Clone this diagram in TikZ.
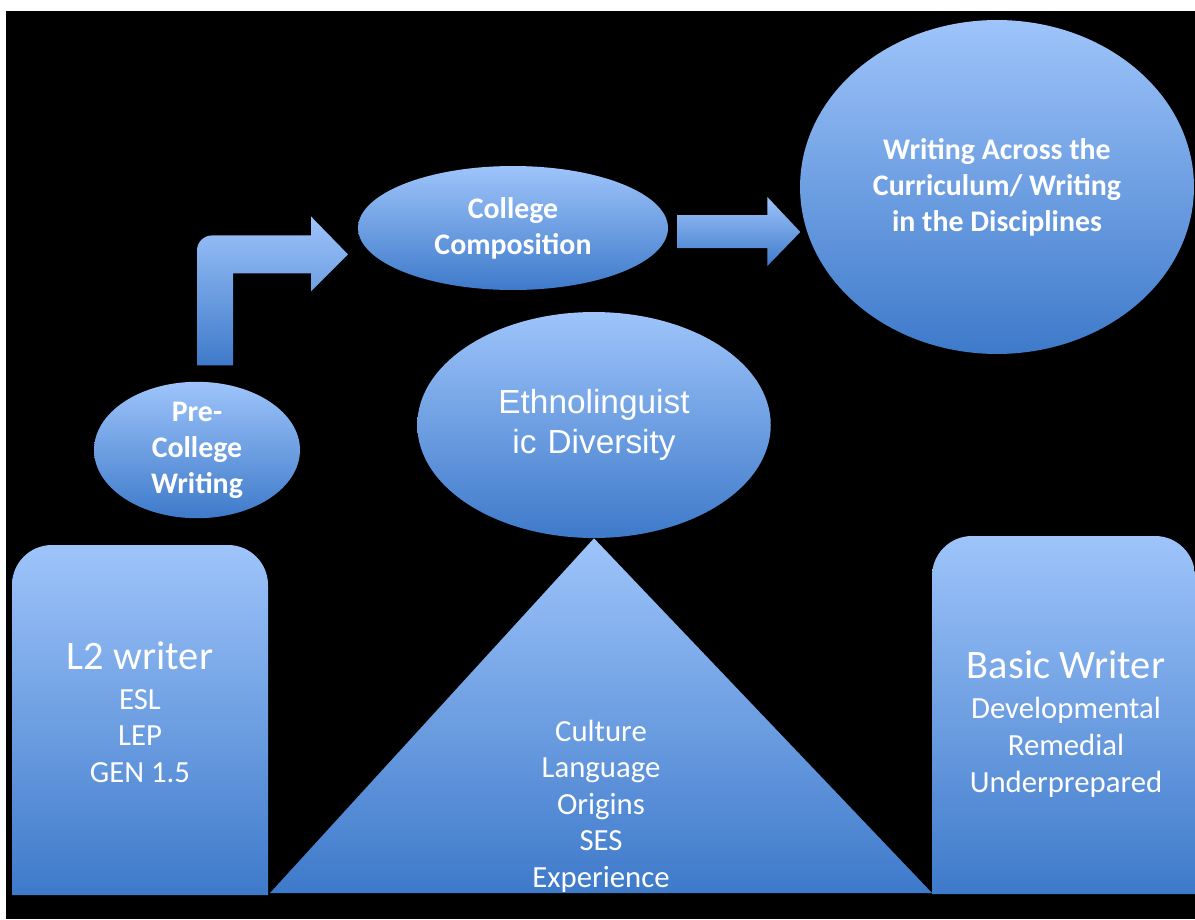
\documentclass[tikz,border=0pt]{standalone}
\usepackage{fontspec}
\setmainfont{Carlito}
\newfontfamily\arialfont{Liberation Sans}
\usetikzlibrary{shapes.geometric}
\usetikzlibrary{calc}
\definecolor{paleblue}{RGB}{158,196,250}
\definecolor{deepblue}{RGB}{62,122,202}

\begin{document}
\begin{tikzpicture}[x=0.02cm, y=-0.02cm,
  blob/.style={ellipse, top color=paleblue, bottom color=deepblue, text=white, align=center, inner sep=0pt},
  slab/.style={top color=paleblue, bottom color=deepblue},
  head/.style={font=\bfseries\fontsize{17}{20.5}\selectfont},
  list/.style={text=white, align=center, font=\fontsize{17.5}{20.8}\selectfont}]
\useasboundingbox (0,0) rectangle (1195,919);
\fill[white] (0,0) rectangle (1195,919);
\fill[black] (6,11) rectangle (1195,919);
% the path of writing
\node[blob, head, minimum width=4.12cm, minimum height=2.68cm] (pre) at (197,450) {Pre-\\College\\Writing};
\node[blob, head, minimum width=6.2cm, minimum height=2.48cm] (comp) at (513,228) {College\\Composition};
\node[blob, head, minimum width=7.88cm, minimum height=6.68cm] (wac) at (997,187) {Writing Across the\\Curriculum/ Writing\\in the Disciplines};
\shade[slab, shift={(pre.north)}] (36,-16) -- (0,-16) [rounded corners=0.3cm] -- (0,-146) [sharp corners] -- (114,-146) -- (114,-165) -- (151,-127) -- (114,-90) -- (114,-108) -- (36,-108) -- cycle;
\shade[slab, shift={(comp.east)}] (9,-13) -- (99,-13) -- (99,-31) -- (132,4) -- (99,38) -- (99,20) -- (9,20) -- cycle;
% the writers
\node[blob, text width=5cm, minimum width=5.92cm, minimum height=4.52cm, font=\arialfont\fontsize{19}{22.5}\selectfont] (eth) at (594,425) {Ethnolinguist\\ic Diversity};
\shade[slab] (270,893) -- (eth.south) -- (932,893) -- cycle;
\shade[slab, rounded corners=0.8cm] (12,895) -- (12,545) -- (268,545) -- (268,895) -- cycle [sharp corners] (12,895) rectangle (268,700);
\shade[slab, rounded corners=0.8cm] (932,894) -- (932,536) -- (1195,536) -- (1195,894) -- cycle [sharp corners] (932,894) rectangle (1195,700);
\node[list] (l2) at (140,712) {{\fontsize{23}{26}\selectfont L2 writer}\\[2pt]ESL\\LEP\\GEN 1.5};
\node[list] (basic) at (1066,724) {{\fontsize{23}{26}\selectfont Basic Writer}\\[2pt]Developmental\\Remedial\\Underprepared};
\node[list] (traits) at (601,806) {Culture\\Language\\Origins\\SES\\Experience};
\end{tikzpicture}
\end{document}
